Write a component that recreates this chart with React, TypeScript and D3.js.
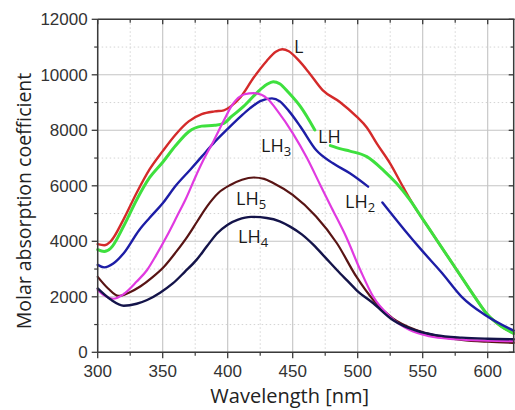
import React from "react";
import * as d3 from "d3";

type P = [number, number | null];

const xTicks = [300, 350, 400, 450, 500, 550, 600];
const yTicks = [0, 2000, 4000, 6000, 8000, 10000, 12000];
const xMinor = [325, 375, 425, 475, 525, 575];
const yMinor = [1000, 3000, 5000, 7000, 9000, 11000];

const seriesL: P[] = [
  [300, 3900], [305, 3860], [310, 4000], [320, 4800], [330, 5750], [340, 6600], [350, 7250],
  [360, 7850], [370, 8320], [380, 8580], [390, 8680], [397, 8720], [402, 8850], [410, 9200],
  [420, 9900], [430, 10500], [437, 10830], [442, 10920], [447, 10850], [455, 10500], [463, 10050],
  [473, 9450], [486, 9030], [499, 8500], [507, 8100], [515, 7500], [525, 6800], [535, 5950],
  [545, 5150], [550, 4800], [560, 4100], [570, 3400], [580, 2700], [590, 2000], [600, 1350],
  [610, 950], [620, 680],
];
const seriesLH: P[] = [
  [300, 3700], [305, 3630], [310, 3750], [320, 4550], [330, 5500], [340, 6300], [350, 6850],
  [360, 7450], [370, 7950], [380, 8150], [390, 8180], [397, 8250], [403, 8500], [412, 8850],
  [422, 9330], [430, 9650], [435, 9750], [440, 9680], [447, 9350], [456, 8850], [467, 8010],
  [473, null], [479, 7450], [487, 7330], [494, 7250], [507, 7050], [520, 6550], [530, 6080],
  [540, 5500], [550, 4800], [560, 4100], [570, 3400], [580, 2700], [590, 2000], [600, 1350],
  [610, 950], [620, 680],
];
const seriesLH2: P[] = [
  [300, 3150], [305, 3060], [312, 3200], [320, 3570], [332, 4410], [340, 4850], [350, 5370],
  [360, 6000], [371, 6570], [380, 7050], [389, 7530], [400, 8050], [410, 8500], [417, 8790],
  [425, 9050], [434, 9150], [440, 9050], [447, 8700], [456, 8130], [468, 7290], [481, 6810],
  [494, 6450], [508, 5970], [514, null], [519, 5400], [536, 4410], [549, 3690], [565, 2850],
  [580, 2000], [598, 1345], [620, 780],
];
const seriesLH3: P[] = [
  [300, 2250], [305, 2050], [312, 1930], [320, 2100], [330, 2550], [338, 2966], [345, 3500],
  [353, 4170], [361, 4900], [368, 5550], [375, 6300], [381, 6900], [389, 7600], [397, 8350],
  [404, 8950], [413, 9300], [420, 9340], [426, 9280], [431, 9120], [438, 8720], [450, 7900],
  [461, 7000], [471, 6050], [480, 5200], [491, 4170], [502, 2966], [512, 2000], [525, 1280],
  [540, 800], [555, 580], [575, 470], [600, 420], [620, 400],
];
const seriesLH5: P[] = [
  [300, 2720], [308, 2300], [316, 2030], [324, 2150], [333, 2380], [342, 2700], [351, 3085],
  [360, 3600], [369, 4170], [377, 4750], [384, 5250], [393, 5750], [402, 6030], [411, 6220],
  [420, 6300], [428, 6250], [435, 6100], [450, 5670], [468, 4890], [484, 3930], [499, 2725],
  [512, 1885], [527, 1225], [545, 800], [560, 600], [580, 450], [600, 380], [620, 340],
];
const seriesLH4: P[] = [
  [300, 2300], [310, 1900], [320, 1680], [330, 1750], [338, 1885], [348, 2150], [358, 2490],
  [367, 2900], [376, 3330], [384, 3820], [392, 4290], [400, 4600], [408, 4780], [418, 4880],
  [430, 4840], [440, 4720], [448, 4530], [457, 4250], [466, 3870], [475, 3420], [484, 2966],
  [492, 2580], [499, 2245], [512, 1766], [527, 1165], [545, 780], [560, 620], [580, 530],
  [600, 490], [620, 470],
];

const seriesList = [
  { name: "L", data: seriesL, color: "#d42a2a", width: 2.4 },
  { name: "LH", data: seriesLH, color: "#3ee03e", width: 3 },
  { name: "LH2", data: seriesLH2, color: "#1d1da6", width: 2.4 },
  { name: "LH5", data: seriesLH5, color: "#581414", width: 2.2 },
  { name: "LH3", data: seriesLH3, color: "#e03ae0", width: 2.2 },
  { name: "LH4", data: seriesLH4, color: "#14144a", width: 2.4 },
];

const labels = [
  { main: "L", sub: "", x: 294, y: 53 },
  { main: "LH", sub: "", x: 318, y: 143 },
  { main: "LH", sub: "3", x: 261, y: 152 },
  { main: "LH", sub: "2", x: 345, y: 208 },
  { main: "LH", sub: "5", x: 236, y: 205 },
  { main: "LH", sub: "4", x: 238, y: 243 },
];

export default function App() {
  const W = 515, H = 410;
  const x = d3.scaleLinear().domain([300, 620]).range([97.7, 513.7]);
  const y = d3.scaleLinear().domain([0, 12000]).range([352.3, 19.3]);
  const line = d3
    .line<P>()
    .defined((d) => d[1] != null)
    .x((d) => x(d[0]))
    .y((d) => y(d[1] as number))
    .curve(d3.curveMonotoneX);

  const x0 = x(300), x1 = x(620), y0 = y(0), y1 = y(12000);
  const axisColor = "#3a3a3a";
  const tickFont = "'Liberation Sans', Arial, sans-serif";
  const titleFont = "'Open Sans', sans-serif";

  return (
    <svg width={W} height={H} style={{ position: "absolute", left: 0, top: 0, background: "#fff" }}>
      {xMinor.map((v) => (
        <line key={"xm" + v} x1={x(v)} x2={x(v)} y1={y1} y2={y0} stroke="#d4d4d4" strokeWidth={1} strokeDasharray="1.5,2.5" />
      ))}
      {yMinor.map((v) => (
        <line key={"ym" + v} x1={x0} x2={x1} y1={y(v)} y2={y(v)} stroke="#d4d4d4" strokeWidth={1} strokeDasharray="1.5,2.5" />
      ))}
      {xTicks.map((v) => (
        <line key={"xg" + v} x1={x(v)} x2={x(v)} y1={y1} y2={y0} stroke="#c4c4c4" strokeWidth={1.1} />
      ))}
      {yTicks.map((v) => (
        <line key={"yg" + v} x1={x0} x2={x1} y1={y(v)} y2={y(v)} stroke="#c4c4c4" strokeWidth={1.1} />
      ))}

      {seriesList.map((s) => (
        <path key={s.name} d={line(s.data) || ""} fill="none" stroke={s.color} strokeWidth={s.width} strokeLinejoin="round" strokeLinecap="round" />
      ))}

      <line x1={x0} x2={x0} y1={y1} y2={y0} stroke={axisColor} strokeWidth={1.5} />
      <line x1={x0} x2={x1 + 1} y1={y0} y2={y0} stroke={axisColor} strokeWidth={1.5} />
      <line x1={x0} x2={x1 + 1} y1={y1} y2={y1} stroke={axisColor} strokeWidth={1.5} />
      <line x1={x1} x2={x1} y1={y1} y2={y0} stroke={axisColor} strokeWidth={1.5} />

      {yTicks.map((v) => (
        <g key={"yt" + v}>
          <line x1={x0 - 6} x2={x0} y1={y(v)} y2={y(v)} stroke={axisColor} strokeWidth={1.3} />
          <line x1={x1 - 5} x2={x1} y1={y(v)} y2={y(v)} stroke={axisColor} strokeWidth={1.3} />
          <text x={x0 - 10} y={y(v)} dy="0.35em" textAnchor="end" fontFamily={tickFont} fontSize={17} fill="#333">
            {v}
          </text>
        </g>
      ))}
      {yMinor.map((v) => (
        <g key={"ymt" + v}>
          <line x1={x0 - 3.5} x2={x0} y1={y(v)} y2={y(v)} stroke={axisColor} strokeWidth={1.2} />
          <line x1={x1 - 3} x2={x1} y1={y(v)} y2={y(v)} stroke={axisColor} strokeWidth={1.2} />
        </g>
      ))}
      {xTicks.map((v) => (
        <g key={"xt" + v}>
          <line x1={x(v)} x2={x(v)} y1={y0} y2={y0 + 6} stroke={axisColor} strokeWidth={1.3} />
          <line x1={x(v)} x2={x(v)} y1={y1} y2={y1 + 5} stroke={axisColor} strokeWidth={1.3} />
          <text x={x(v)} y={y0 + 25} textAnchor="middle" fontFamily={tickFont} fontSize={17} fill="#333">
            {v}
          </text>
        </g>
      ))}
      {xMinor.map((v) => (
        <g key={"xmt" + v}>
          <line x1={x(v)} x2={x(v)} y1={y0} y2={y0 + 3.5} stroke={axisColor} strokeWidth={1.2} />
          <line x1={x(v)} x2={x(v)} y1={y1} y2={y1 + 3.5} stroke={axisColor} strokeWidth={1.2} />
        </g>
      ))}

      {labels.map((l, i) => (
        <text key={"lb" + i} x={l.x} y={l.y} fontFamily={titleFont} fontSize={18} fill="#1a1a1a">
          {l.main}
          {l.sub && (
            <tspan fontSize={13} dy={4}>
              {l.sub}
            </tspan>
          )}
        </text>
      ))}

      <text x={(x0 + x1) / 2 - 16} y={403} textAnchor="middle" fontFamily={titleFont} fontSize={20} fill="#222">
        Wavelength [nm]
      </text>
      <text transform={`translate(31,${(62 + 340) / 2}) rotate(-90)`} textAnchor="middle" fontFamily={titleFont} fontSize={19.5} fill="#222">
        Molar absorption coefficient
      </text>
    </svg>
  );
}
